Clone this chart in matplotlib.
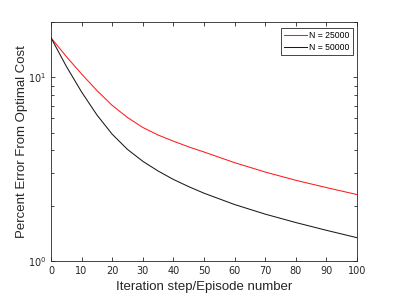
import matplotlib
matplotlib.use('Agg')
import matplotlib.pyplot as plt
import numpy as np

# values
episodes = [0, 5, 10, 15, 20, 25, 30, 35, 40, 45, 50, 60, 70, 80, 90, 100]
err_25000 = [16.4, 12.97, 10.42, 8.47, 7.03, 6.04, 5.33, 4.85, 4.49, 4.18, 3.92, 3.43, 3.05, 2.75, 2.51, 2.30]
err_50000 = [16.4, 11.48, 8.32, 6.24, 4.90, 4.05, 3.49, 3.09, 2.78, 2.54, 2.34, 2.03, 1.80, 1.62, 1.47, 1.34]
series_labels = ['N = 25000', 'N = 50000']

axis_col = '#262626'

fig = plt.figure(figsize=(3.95, 2.96), dpi=100)
ax = fig.add_axes([0.129, 0.118, 0.775, 0.808])

ax.plot(episodes, err_25000, color='#ff1a1a', linewidth=0.75, label=series_labels[0])
ax.plot(episodes, err_50000, color='#1a1a1a', linewidth=0.75, label=series_labels[1])

ax.set_yscale('log')
ax.set_xlim(0, 100)
ax.set_ylim(1, 20)
ax.set_xticks(np.arange(0, 101, 10))

ax.tick_params(which='both', direction='in', top=True, right=True, colors=axis_col,
               labelsize=7, width=0.6)
ax.tick_params(which='major', length=3)
ax.tick_params(which='minor', length=2)
for sp in ax.spines.values():
    sp.set_color(axis_col)
    sp.set_linewidth(0.6)

ax.set_xlabel('Iteration step/Episode number', fontsize=9.5, family='Liberation Sans',
              color=axis_col, labelpad=4)
ax.set_ylabel('Percent Error From Optimal Cost', fontsize=9.5, family='Liberation Sans',
              color=axis_col, labelpad=0)

leg = ax.legend(loc='upper right', prop={'family': 'Liberation Sans', 'size': 6.2},
                fancybox=False, framealpha=1, edgecolor=axis_col, handlelength=2.6,
                borderpad=0.4, labelspacing=0.3, handletextpad=0.3,
                borderaxespad=0, bbox_to_anchor=(0.987, 0.975))
leg.get_frame().set_linewidth(0.6)

fig.savefig('out.png', dpi=100)
